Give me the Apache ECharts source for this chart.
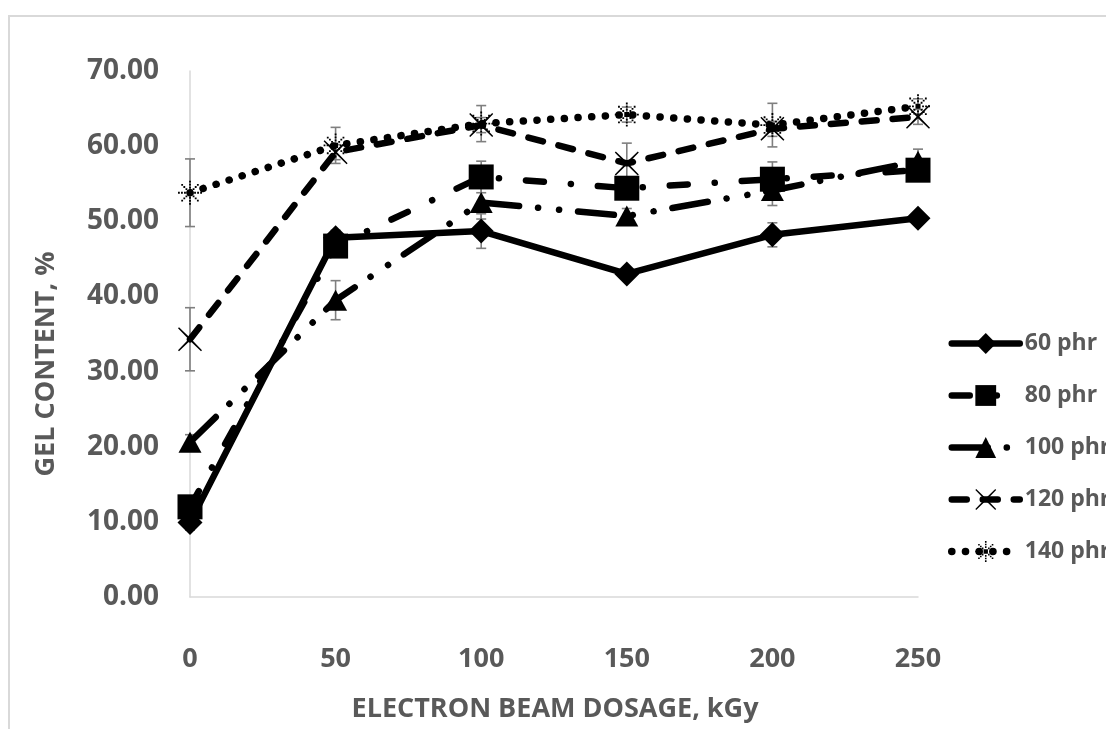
<!DOCTYPE html>
<html>
<head>
<meta charset="utf-8">
<title>Gel content vs electron beam dosage</title>
<script src="https://cdn.jsdelivr.net/npm/echarts@6/dist/echarts.min.js"></script>
<style>
	html, body { margin: 0; padding: 0; background: #fff; }
	#main { width: 1106px; height: 729px; }
</style>
</head>
<body>
<div id="main"></div>
<script>
	/* 数据 */
	var doseLabels = ['0', '50', '100', '150', '200', '250'];
	var yTicks = [0, 10, 20, 30, 40, 50, 60, 70];
	var seriesNames = ['60 phr', '80 phr', '100 phr', '120 phr', '140 phr'];

	var gel60 = [9.9, 47.8, 48.7, 43.0, 48.2, 50.4];
	var gel80 = [12.0, 46.7, 55.9, 54.4, 55.6, 56.8];
	var gel100 = [20.6, 39.5, 52.5, 50.7, 54.1, 58.0];
	var gel120 = [34.3, 59.2, 62.8, 57.7, 62.3, 63.9];
	var gel140 = [53.8, 60.1, 63.0, 64.2, 62.8, 65.3];

	// +/- error
	var err60 = [1.0, 1.0, 2.3, 0.8, 1.6, 0.8];
	var err80 = [1.0, 1.0, 2.1, 1.0, 2.3, 1.0];
	var err100 = [1.0, 2.6, 2.2, 1.0, 2.0, 1.6];
	var err120 = [4.2, 1.0, 1.0, 2.7, 1.0, 1.0];
	var err140 = [4.5, 2.4, 2.4, 1.0, 2.9, 1.0];

	var textGrey = '#595959';
	var font = 'Open Sans';

	/* 标记形状 */
	var crossPath = 'path://M1,0 L12,10.6 L23,0 L24,1 L13.4,12 L24,23 L23,24 L12,13.4 L1,24 L0,23 L10.6,12 L0,1 Z';

	function dottedStarPath() {
		var p = 'path://';
		var angles = [0, 45, 90, 135];
		var dists = [-11, -8, -5, 5, 8, 11];
		for (var a = 0; a < angles.length; a++) {
			var r = angles[a] * Math.PI / 180;
			for (var d = 0; d < dists.length; d++) {
				var cx = 12 + dists[d] * Math.cos(r);
				var cy = 12 + dists[d] * Math.sin(r);
				p += 'M' + (cx - 0.9).toFixed(2) + ',' + (cy - 0.9).toFixed(2) +
					' h1.8 v1.8 h-1.8 Z ';
			}
		}
		p += 'M9.5,9.5 h5 v5 h-5 Z';
		return p;
	}

	var lineDefs = [
		{ symbol: 'diamond', size: 25, dash: 'solid', width: 6.5 },
		{ symbol: 'rect', size: 25, dash: [18, 27, 0.1, 27], width: 6.5 },
		{ symbol: 'triangle', size: [23, 21], dash: [36, 19, 0.1, 21, 0.1, 19], width: 6.5 },
		{ symbol: crossPath, size: 24, dash: [15, 16], width: 6.5 },
		{ symbol: dottedStarPath(), size: 24, dash: [0.1, 13.6], width: 7.5 }
	];
	var gelSets = [gel60, gel80, gel100, gel120, gel140];
	var errSets = [err60, err80, err100, err120, err140];

	function errData(values, errs) {
		var out = [];
		for (var i = 0; i < values.length; i++) {
			out.push([i, values[i] - errs[i], values[i] + errs[i]]);
		}
		return out;
	}

	function renderErr(params, api) {
		var lo = api.coord([api.value(0), api.value(1)]);
		var hi = api.coord([api.value(0), api.value(2)]);
		var st = { stroke: '#7f7f7f', lineWidth: 1.6 };
		return {
			type: 'group',
			children: [
				{ type: 'line', shape: { x1: lo[0], y1: lo[1], x2: hi[0], y2: hi[1] }, style: st },
				{ type: 'line', shape: { x1: lo[0] - 5, y1: lo[1], x2: lo[0] + 5, y2: lo[1] }, style: st },
				{ type: 'line', shape: { x1: hi[0] - 5, y1: hi[1], x2: hi[0] + 5, y2: hi[1] }, style: st }
			]
		};
	}

	var series = [];
	var legendItems = [];
	for (var k = 0; k < lineDefs.length; k++) {
		var d = lineDefs[k];
		// 误差线放在下层
		series.push({
			type: 'custom',
			renderItem: renderErr,
			data: errData(gelSets[k], errSets[k]),
			z: 1,
			silent: true
		});
		series.push({
			name: seriesNames[k],
			type: 'line',
			data: gelSets[k],
			symbol: d.symbol,
			symbolSize: d.size,
			showSymbol: true,
			z: 2,
			itemStyle: { color: '#000' },
			lineStyle: { color: '#000', width: d.width, type: d.dash, cap: 'round' }
		});
		legendItems.push({
			name: seriesNames[k],
			lineStyle: { width: d.width, type: d.dash, cap: 'round', color: '#000' }
		});
	}

	var myChart = echarts.init(document.getElementById('main'));
	var option = {
		animation: false,
		backgroundColor: '#fff',
		textStyle: { fontFamily: font },
		grid: { left: 190, right: 188, top: 71, bottom: 132 },
		legend: {
			data: legendItems,
			orient: 'vertical',
			left: 943,
			top: 327,
			itemWidth: 68,
			itemHeight: 26,
			itemGap: 29,
			textStyle: { color: textGrey, fontSize: 23, fontWeight: 'bold', fontFamily: font }
		},
		xAxis: {
			type: 'category',
			data: doseLabels,
			boundaryGap: false,
			axisLine: { lineStyle: { color: '#d9d9d9', width: 1.5 } },
			axisTick: { show: false },
			axisLabel: { color: textGrey, fontSize: 27, fontWeight: 'bold', margin: 49 },
			splitLine: { show: false }
		},
		yAxis: {
			type: 'value',
			min: yTicks[0],
			max: yTicks[yTicks.length - 1],
			interval: 10,
			axisLine: { show: true, lineStyle: { color: '#d9d9d9', width: 1.5 } },
			axisTick: { show: false },
			splitLine: { show: false },
			axisLabel: {
				color: textGrey, fontSize: 28, fontWeight: 'bold', margin: 31,
				formatter: function (v) { return v.toFixed(2); }
			}
		},
		graphic: [
			{
				type: 'rect',
				shape: { x: 9, y: 16, width: 2000, height: 2000 },
				style: { fill: 'none', stroke: '#d9d9d9', lineWidth: 2 },
				silent: true
			},
			{
				type: 'text',
				x: 555, y: 709,
				style: {
					text: 'ELECTRON BEAM DOSAGE, kGy',
					fill: textGrey, font: 'bold 27px "Open Sans"',
					textAlign: 'center', textVerticalAlign: 'middle'
				}
			},
			{
				type: 'text',
				x: 46, y: 364,
				rotation: Math.PI / 2,
				style: {
					text: 'GEL CONTENT, %',
					fill: textGrey, font: 'bold 27px "Open Sans"',
					textAlign: 'center', textVerticalAlign: 'middle'
				}
			}
		],
		series: series
	};
	myChart.setOption(option);
	window.onresize = function () {
		myChart.resize();
	};
</script>
</body>
</html>
